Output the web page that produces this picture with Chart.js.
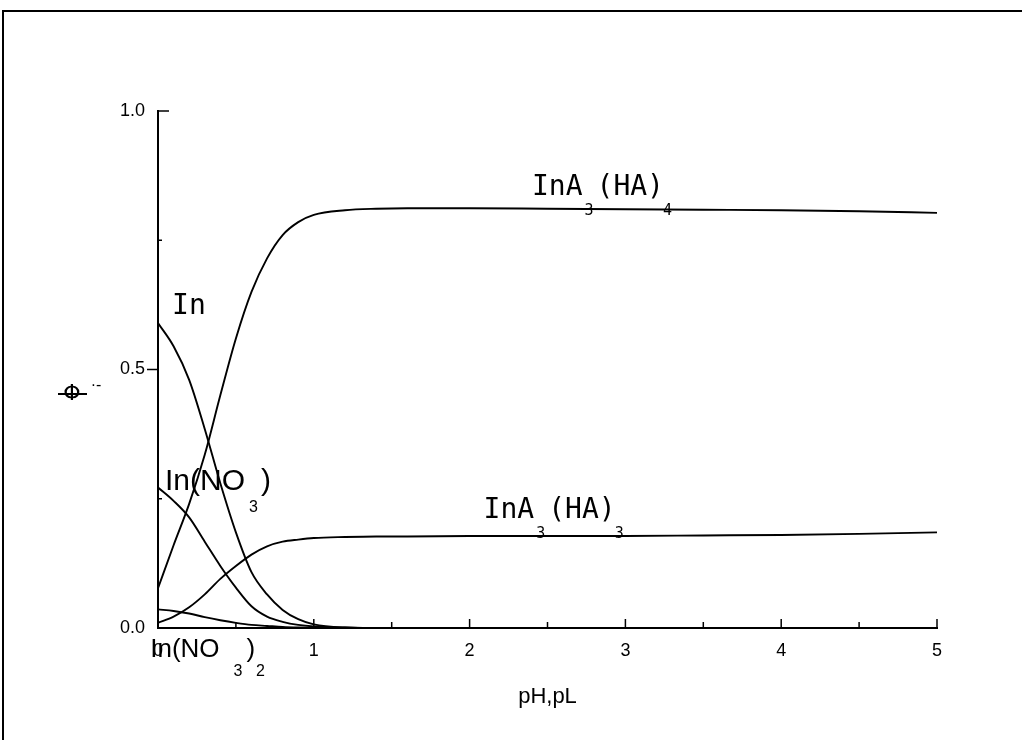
<!DOCTYPE html>
<html>
<head>
<meta charset="utf-8">
<script src="https://cdn.jsdelivr.net/npm/chart.js@4"></script>
<style>
  html, body { margin: 0; padding: 0; background: #fff; }
  #wrap { width: 1022px; height: 740px; position: relative; }
</style>
</head>
<body>
<div id="wrap"><canvas id="myChart"></canvas></div>
<script>
// pH values along the x axis
const xValues = [0, 0.1, 0.2, 0.3, 0.4, 0.5, 0.6, 0.7, 0.8, 0.9, 1.0, 1.2, 1.4, 1.6, 2, 2.5, 3, 3.5, 4, 4.5, 5];

// fractions for each species
const inA3HA4 = [0.077, 0.16, 0.24, 0.335, 0.45, 0.56, 0.65, 0.715, 0.76, 0.785, 0.799, 0.808, 0.811, 0.812, 0.812, 0.811, 0.81, 0.809, 0.808, 0.806, 0.803];
const inFree = [0.59, 0.545, 0.48, 0.385, 0.28, 0.185, 0.108, 0.065, 0.035, 0.017, 0.007, 0.001, 0, 0, 0, 0, 0, 0, 0, 0, 0];
const inNO3 = [0.272, 0.246, 0.214, 0.167, 0.12, 0.078, 0.042, 0.022, 0.012, 0.006, 0.003, 0.001, 0, 0, 0, 0, 0, 0, 0, 0, 0];
const inA3HA3 = [0.01, 0.022, 0.04, 0.065, 0.095, 0.12, 0.142, 0.158, 0.167, 0.171, 0.174, 0.176, 0.177, 0.177, 0.178, 0.178, 0.178, 0.179, 0.18, 0.182, 0.185];
const inNO3_2 = [0.036, 0.033, 0.028, 0.021, 0.015, 0.01, 0.006, 0.004, 0.002, 0.001, 0.0005, 0, 0, 0, 0, 0, 0, 0, 0, 0, 0];

const xTicks = [0, 1, 2, 3, 4, 5];
const yTicks = [0, 0.5, 1.0];

const toPoints = (arr) => xValues.map((x, i) => ({ x, y: arr[i] }));

const line = (label, arr) => ({
  label,
  data: toPoints(arr),
  borderColor: '#000',
  borderWidth: 1.9,
  pointRadius: 0,
  cubicInterpolationMode: 'monotone',
  fill: false,
});

const SANS = '"Liberation Sans", Arial, sans-serif';
const MONO = '"DejaVu Sans Mono", monospace';

// text next to the curves, anchored in data units
const curveLabels = [
  { x: 0.09, y: 0.607, font: MONO, size: 28, sub: 15, parts: [['In']] },
  { x: 0.045, y: 0.267, font: SANS, size: 30, sub: 16, parts: [['In(NO'], ['3', 1, 4], [')', 0, 3]] },
  { x: -0.05, y: -0.056, font: SANS, size: 26, sub: 16, parts: [['In(NO'], ['3', 1, 14], [')', 0, 4], ['2', 1, 1]] },
  { x: 2.4, y: 0.8375, font: MONO, size: 28, sub: 15, parts: [['InA'], ['3', 1, 2], ['(HA)', 0, 3], ['4', 1, -1]] },
  { x: 2.09, y: 0.213, font: MONO, size: 28, sub: 15, parts: [['InA'], ['3', 1, 2], ['(HA)', 0, 3], ['3', 1, -1]] },
];

const decorations = {
  id: 'decorations',
  afterDraw(chart) {
    const { ctx, scales: { x, y } } = chart;
    ctx.save();
    ctx.strokeStyle = '#000';
    ctx.fillStyle = '#000';

    // scanned page frame
    ctx.lineWidth = 2;
    ctx.beginPath();
    ctx.moveTo(3, 740);
    ctx.lineTo(3, 11);
    ctx.lineTo(1022, 11);
    ctx.stroke();

    // x ticks pointing inward
    ctx.lineWidth = 1.5;
    for (let v = 0.5; v <= 5.001; v += 0.5) {
      const px = x.getPixelForValue(v);
      const len = Number.isInteger(v) ? 9 : 6;
      ctx.beginPath();
      ctx.moveTo(px, y.bottom);
      ctx.lineTo(px, y.bottom - len);
      ctx.stroke();
    }
    // y ticks
    [[1.0, 11], [0.75, 4], [0.5, -11], [0.25, 4]].forEach(([v, len]) => {
      const py = y.getPixelForValue(v);
      ctx.beginPath();
      ctx.moveTo(x.left, py);
      ctx.lineTo(x.left + len, py);
      ctx.stroke();
    });

    // curve labels
    ctx.textBaseline = 'alphabetic';
    ctx.textAlign = 'left';
    curveLabels.forEach((lab) => {
      let px = x.getPixelForValue(lab.x);
      const base = y.getPixelForValue(lab.y);
      lab.parts.forEach(([t, isSub, dx]) => {
        px += dx || 0;
        const size = isSub ? lab.sub : lab.size;
        ctx.font = `${size}px ${lab.font}`;
        ctx.fillText(t, px, isSub ? base + lab.size * 0.72 : base);
        px += ctx.measureText(t).width;
      });
    });

    // y axis symbol
    ctx.font = `22px "DejaVu Sans", sans-serif`;
    ctx.textAlign = 'center';
    ctx.textBaseline = 'middle';
    ctx.fillText('\u03A6', 72, 394);
    ctx.lineWidth = 2;
    ctx.beginPath();
    ctx.moveTo(58, 394);
    ctx.lineTo(87, 394);
    ctx.stroke();
    ctx.font = `16px ${SANS}`;
    ctx.fillText('\u00B7-', 96, 386);
    ctx.restore();
  },
};

const ctx = document.getElementById('myChart');

new Chart(ctx, {
  type: 'line',
  data: {
    datasets: [
      line('InA3(HA)4', inA3HA4),
      line('In', inFree),
      line('In(NO3)', inNO3),
      line('InA3(HA)3', inA3HA3),
      line('In(NO3)2', inNO3_2),
    ],
  },
  options: {
    responsive: true,
    maintainAspectRatio: false,
    animation: false,
    events: [],
    layout: { padding: { top: 111, right: 85, left: 0, bottom: 0 } },
    plugins: { legend: { display: false }, tooltip: { enabled: false } },
    scales: {
      x: {
        type: 'linear',
        min: 0,
        max: 5,
        afterFit: (scale) => { scale.height = 112; },
        afterBuildTicks: (scale) => { scale.ticks = xTicks.map((v) => ({ value: v })); },
        ticks: {
          color: '#000',
          padding: 12,
          font: { family: SANS, size: 18 },
          callback: (v) => String(v),
        },
        grid: { display: true, drawOnChartArea: false, drawTicks: false },
        border: { display: true, color: '#000', width: 2 },
        title: {
          display: true,
          text: 'pH,pL',
          color: '#000',
          font: { family: SANS, size: 22 },
          padding: { top: 0, bottom: 30 },
        },
      },
      y: {
        min: 0,
        max: 1,
        afterFit: (scale) => { scale.width = 158; },
        afterBuildTicks: (scale) => { scale.ticks = yTicks.map((v) => ({ value: v })); },
        ticks: {
          color: '#000',
          padding: 13,
          font: { family: SANS, size: 18 },
          callback: (v) => v.toFixed(1),
        },
        grid: { display: true, drawOnChartArea: false, drawTicks: false },
        border: { display: true, color: '#000', width: 2 },
      },
    },
  },
  plugins: [decorations],
});
</script>
</body>
</html>
